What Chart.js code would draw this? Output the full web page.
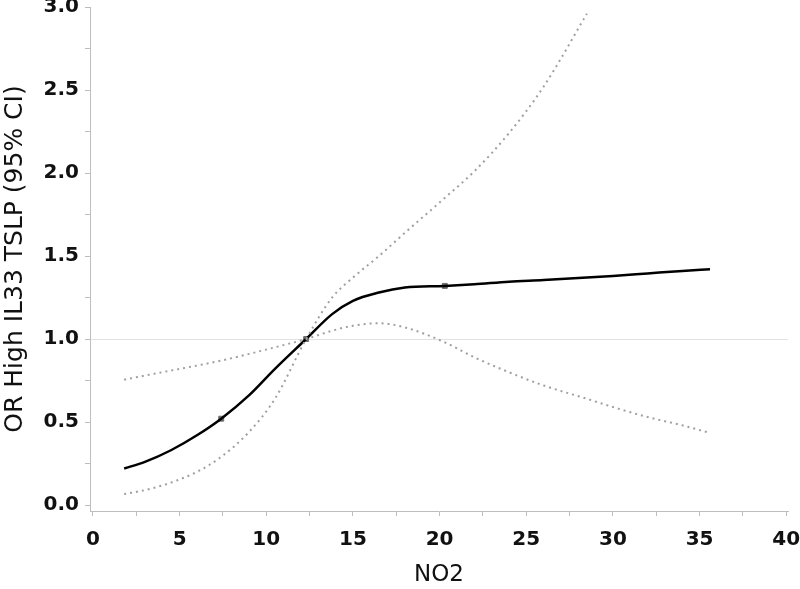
<!DOCTYPE html>
<html>
<head>
<meta charset="utf-8">
<script src="https://cdn.jsdelivr.net/npm/chart.js@4.4.1/dist/chart.umd.min.js"></script>
<style>
  body { margin: 0; background: #fff; }
  #wrap { width: 800px; height: 589px; }
</style>
</head>
<body>
<div id="wrap"><canvas id="orChart"></canvas></div>
<script>
// NO2 values where the curves were read
var no2 = [1.8, 3, 4.5, 6, 7.4, 9, 10.5, 12.3, 13.8, 15, 16.5, 18, 20.3, 22, 24, 26, 28.5, 30, 32, 34, 35.6];
// odds ratio estimate
var orValues = [0.22, 0.26, 0.33, 0.42, 0.52, 0.66, 0.82, 1.0, 1.15, 1.23, 1.28, 1.31, 1.32, 1.33, 1.345, 1.355, 1.37, 1.38, 1.395, 1.41, 1.42];
// lower and upper 95% CI (upper leaves the plot after 28.5)
var ciLow = [0.755, 0.78, 0.81, 0.84, 0.87, 0.91, 0.95, 1.0, 1.05, 1.08, 1.095, 1.07, 0.98, 0.89, 0.8, 0.72, 0.64, 0.59, 0.53, 0.48, 0.434];
var ciHigh = [0.066, 0.09, 0.135, 0.2, 0.29, 0.44, 0.64, 1.0, 1.25, 1.37, 1.5, 1.64, 1.85, 2.01, 2.24, 2.52, 2.96];
// spline knots
var knotX = [7.4, 12.3, 20.3];
var knotY = [0.52, 1.0, 1.32];

var xTicks = [0, 2.5, 5, 7.5, 10, 12.5, 15, 17.5, 20, 22.5, 25, 27.5, 30, 32.5, 35, 37.5, 40];
var yTicks = [0, 0.25, 0.5, 0.75, 1, 1.25, 1.5, 1.75, 2, 2.25, 2.5, 2.75, 3];
var refLine = 1.0;

function pts(xs, ys) {
  var out = [];
  for (var i = 0; i < ys.length; i++) out.push({ x: xs[i], y: ys[i] });
  return out;
}

var ctx = document.getElementById("orChart").getContext("2d");

var dotted = {
  borderColor: "#a0a0a0",
  borderWidth: 2,
  borderDash: [2, 4],
  pointRadius: 0,
  cubicInterpolationMode: "monotone",
  fill: false
};

var config = {
  type: "line",
  data: {
    datasets: [
      Object.assign({ label: "Lower CI", data: pts(no2, ciLow) }, dotted),
      Object.assign({ label: "Upper CI", data: pts(no2, ciHigh) }, dotted),
      {
        label: "OR",
        data: pts(no2, orValues),
        borderColor: "#000",
        borderWidth: 2.5,
        pointRadius: 0,
        cubicInterpolationMode: "monotone",
        fill: false
      },
      {
        type: "scatter",
        label: "Knots",
        data: pts(knotX, knotY),
        backgroundColor: "#6e6e6e",
        borderColor: "#6e6e6e",
        pointRadius: 3.5,
        pointStyle: "rect"
      }
    ]
  },
  options: {
    responsive: true,
    maintainAspectRatio: false,
    animation: false,
    layout: { padding: { top: 7, right: 0, left: 0, bottom: 0 } },
    plugins: { legend: { display: false }, tooltip: { enabled: false } },
    scales: {
      x: {
        type: "linear",
        min: -0.17,
        max: 40.1,
        afterBuildTicks: function (s) {
          s.ticks = xTicks.map(function (v) { return { value: v }; });
        },
        afterFit: function (s) {
          s.height = 78;
          s.paddingLeft = 0;
          s.paddingRight = 12;
        },
        border: { color: "#bdbdbd", width: 1 },
        grid: { drawOnChartArea: false, tickLength: 5, color: "#bdbdbd" },
        ticks: {
          autoSkip: false,
          maxRotation: 0,
          padding: 12,
          color: "#111",
          font: { family: "DejaVu Sans", size: 20, weight: "bold" },
          callback: function (v) { return v % 5 === 0 ? String(v) : ""; }
        },
        title: {
          display: true,
          text: "NO2",
          color: "#111",
          font: { family: "DejaVu Sans", size: 23 },
          padding: { top: 11, bottom: 0 }
        }
      },
      y: {
        type: "linear",
        min: -0.036,
        max: 3.0,
        afterBuildTicks: function (s) {
          s.ticks = yTicks.map(function (v) { return { value: v }; });
        },
        afterFit: function (s) {
          s.width = 90;
          s.paddingTop = 0;
          s.paddingBottom = 0;
        },
        border: { color: "#bdbdbd", width: 1 },
        grid: {
          drawOnChartArea: true,
          tickLength: 5,
          tickColor: "#bdbdbd",
          color: function (c) { return c.tick && c.tick.value === refLine ? "#e2e2e2" : "rgba(0,0,0,0)"; }
        },
        ticks: {
          autoSkip: false,
          padding: 6,
          color: "#111",
          font: { family: "DejaVu Sans", size: 20, weight: "bold" },
          callback: function (v) { return v % 0.5 === 0 ? v.toFixed(1) : ""; }
        },
        title: {
          display: true,
          text: "OR High IL33 TSLP (95% CI)",
          color: "#111",
          font: { family: "DejaVu Sans", size: 25 },
          padding: { top: 0, bottom: 4 }
        }
      }
    }
  }
};

var myChart = new Chart(ctx, config);
</script>
</body>
</html>
